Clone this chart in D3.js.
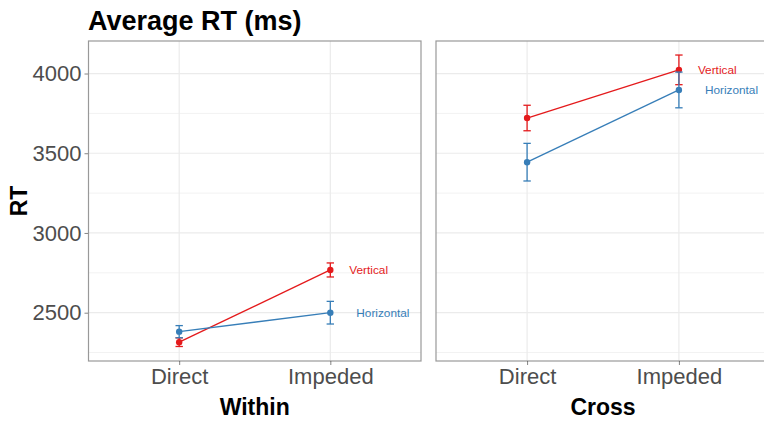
<!DOCTYPE html>
<html>
<head>
<meta charset="utf-8">
<script src="https://cdn.jsdelivr.net/npm/d3@7"></script>
<style>
  body { margin: 0; background: #fff; }
  text { font-family: "Liberation Sans", Arial, sans-serif; }
</style>
</head>
<body>
<svg id="chart"></svg>
<script>
const width = 764,
      height = 421;

// data
const panels = ["Within", "Cross"];
const conditions = ["Direct", "Impeded"];
const seriesNames = ["Vertical", "Horizontal"];
const yTicks = [2500, 3000, 3500, 4000];

// mean RT, [Direct, Impeded]
const withinVertical = [2315, 2768];
const withinHorizontal = [2381, 2500];
const crossVertical = [3721, 4023];
const crossHorizontal = [3444, 3897];

// error bars (half width)
const withinVerticalErr = [27, 44];
const withinHorizontalErr = [38, 71];
const crossVerticalErr = [80, 93];
const crossHorizontalErr = [118, 112];

const colors = {"Vertical": "#E41A1C", "Horizontal": "#377EB8"};
const labelNudge = {"Vertical": 19, "Horizontal": 26};

const panelData = {
    "Within": [
        {name: "Vertical", mean: withinVertical, err: withinVerticalErr},
        {name: "Horizontal", mean: withinHorizontal, err: withinHorizontalErr}
    ],
    "Cross": [
        {name: "Vertical", mean: crossVertical, err: crossVerticalErr},
        {name: "Horizontal", mean: crossHorizontal, err: crossHorizontalErr}
    ]
};

const MARGIN = {TOP: 41, BOTTOM: 361};
const panelX = [[88.5, 421], [436, 770]];

const svg = d3.select("#chart").attr("width", width).attr("height", height);

const y = d3.scaleLinear()
    .domain([2197, 4204])
    .range([MARGIN.BOTTOM, MARGIN.TOP]);

// title
svg.append("text")
    .attr("x", 88).attr("y", 30)
    .attr("font-size", 27).attr("font-weight", "bold")
    .attr("fill", "#000")
    .text("Average RT (ms)");

// y title
svg.append("text")
    .attr("transform", `translate(27,${(MARGIN.TOP + MARGIN.BOTTOM) / 2}) rotate(-90)`)
    .attr("text-anchor", "middle")
    .attr("font-size", 23).attr("font-weight", "bold")
    .text("RT");

// y axis on the left panel only
const yAxis = d3.axisLeft(y).tickValues(yTicks).tickFormat(d3.format("d")).tickSize(4).tickPadding(3);
const yg = svg.append("g")
    .attr("transform", `translate(${panelX[0][0]},0)`)
    .call(yAxis);
yg.select(".domain").remove();
yg.selectAll(".tick line").attr("stroke", "#333").attr("stroke-opacity", 0.6);
yg.selectAll(".tick text").attr("font-size", 22).attr("fill", "#4D4D4D");

const minorTicks = d3.range(2250, 4250, 500);

panels.forEach((p, pi) => {
    const [x0, x1] = panelX[pi];
    const x = d3.scalePoint()
        .domain(conditions)
        .range([x0, x1])
        .padding(0.6);

    const g = svg.append("g");

    // grid
    g.selectAll(".minor").data(minorTicks).enter().append("line")
        .attr("x1", x0).attr("x2", x1)
        .attr("y1", d => y(d)).attr("y2", d => y(d))
        .attr("stroke", "#F2F2F2").attr("stroke-width", 1);
    g.selectAll(".major").data(yTicks).enter().append("line")
        .attr("x1", x0).attr("x2", x1)
        .attr("y1", d => y(d)).attr("y2", d => y(d))
        .attr("stroke", "#EBEBEB").attr("stroke-width", 1.2);
    g.selectAll(".vgrid").data(conditions).enter().append("line")
        .attr("x1", d => x(d)).attr("x2", d => x(d))
        .attr("y1", MARGIN.TOP).attr("y2", MARGIN.BOTTOM)
        .attr("stroke", "#EBEBEB").attr("stroke-width", 1.2);

    // x axis
    const xg = svg.append("g")
        .attr("transform", `translate(0,${MARGIN.BOTTOM})`)
        .call(d3.axisBottom(x).tickSize(4).tickPadding(3));
    xg.select(".domain").remove();
    xg.selectAll(".tick line").attr("stroke", "#333").attr("stroke-opacity", 0.6);
    xg.selectAll(".tick text").attr("font-size", 22).attr("fill", "#4D4D4D");

    // x title
    svg.append("text")
        .attr("x", (x0 + x1) / 2).attr("y", 415)
        .attr("text-anchor", "middle")
        .attr("font-size", 23).attr("font-weight", "bold")
        .text(p);

    panelData[p].forEach(s => {
        const c = colors[s.name];
        const pts = conditions.map((cond, i) => ({cond, m: s.mean[i], e: s.err[i]}));

        g.append("path")
            .datum(pts)
            .attr("fill", "none").attr("stroke", c).attr("stroke-width", 1.3)
            .attr("d", d3.line().x(d => x(d.cond)).y(d => y(d.m)));

        const eb = g.selectAll(null).data(pts).enter().append("g").attr("stroke", c).attr("stroke-width", 1.3);
        eb.append("line")
            .attr("x1", d => x(d.cond)).attr("x2", d => x(d.cond))
            .attr("y1", d => y(d.m - d.e)).attr("y2", d => y(d.m + d.e));
        eb.append("line")
            .attr("x1", d => x(d.cond) - 3.7).attr("x2", d => x(d.cond) + 3.7)
            .attr("y1", d => y(d.m - d.e)).attr("y2", d => y(d.m - d.e));
        eb.append("line")
            .attr("x1", d => x(d.cond) - 3.7).attr("x2", d => x(d.cond) + 3.7)
            .attr("y1", d => y(d.m + d.e)).attr("y2", d => y(d.m + d.e));

        g.selectAll(null).data(pts).enter().append("circle")
            .attr("cx", d => x(d.cond)).attr("cy", d => y(d.m))
            .attr("r", 3.2).attr("fill", c);

        // series label next to the Impeded point
        const last = pts[pts.length - 1];
        g.append("text")
            .attr("x", x(last.cond) + labelNudge[s.name])
            .attr("y", y(last.m))
            .attr("dy", "0.35em")
            .attr("font-size", 11.8)
            .attr("fill", c)
            .text(s.name);
    });

    // panel border
    g.append("rect")
        .attr("x", x0).attr("y", MARGIN.TOP)
        .attr("width", x1 - x0).attr("height", MARGIN.BOTTOM - MARGIN.TOP)
        .attr("fill", "none").attr("stroke", "#999").attr("stroke-width", 1.2);
});
</script>
</body>
</html>
